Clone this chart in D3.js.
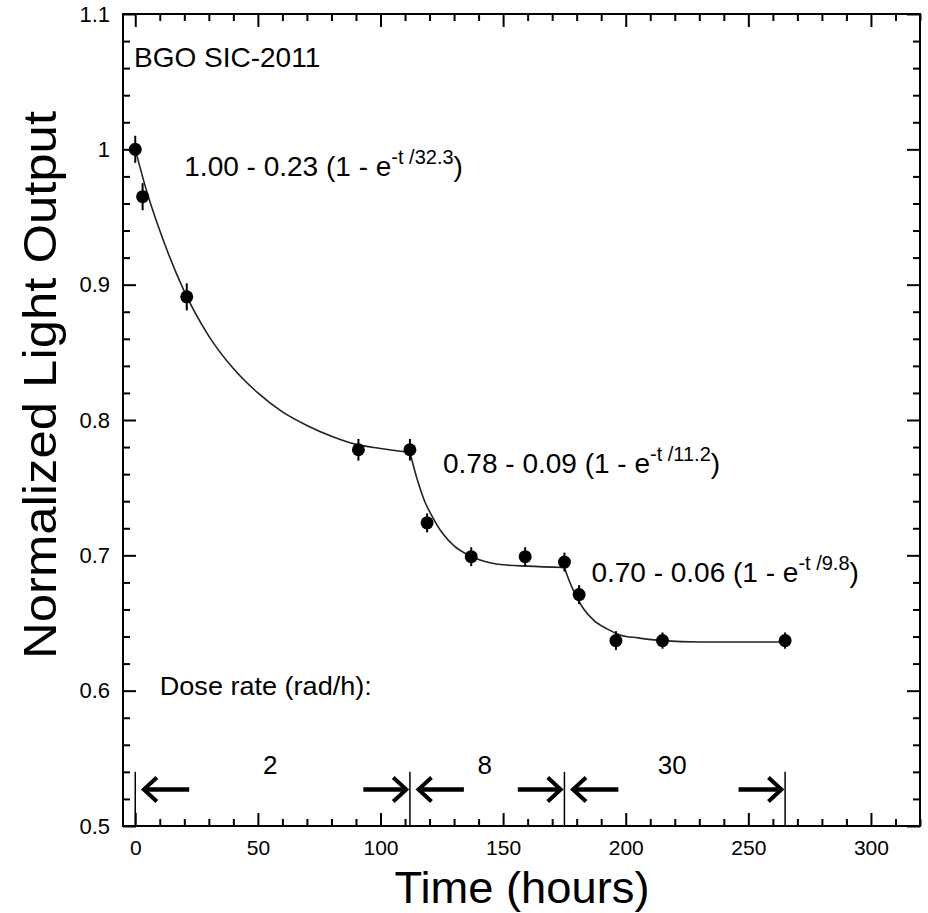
<!DOCTYPE html>
<html>
<head>
<meta charset="utf-8">
<script src="https://cdn.jsdelivr.net/npm/d3@7"></script>
<style>
  html, body { margin: 0; padding: 0; background: #fff; }
  svg { display: block; }
  text { font-family: "Liberation Sans", Arial, "DejaVu Sans", sans-serif; fill: #000; }
</style>
</head>
<body>
<svg id="chart" width="928" height="913"></svg>
<script>
// ---- data ----
const timeHours   = [0, 3, 21, 91, 112, 119, 137, 159, 175, 181, 196, 215, 265];
const lightOutput = [1.000, 0.965, 0.891, 0.778, 0.778, 0.724, 0.699, 0.699, 0.695, 0.671, 0.637, 0.637, 0.637];
const errorBar    = [0.010, 0.010, 0.010, 0.008, 0.008, 0.007, 0.007, 0.007, 0.007, 0.007, 0.007, 0.006, 0.006];

// fit curve points (three segments)
const fit1T = [0, 5, 10, 20, 30, 40, 50, 60, 70, 80, 90, 100, 112];
const fit1Y = [1.000, 0.967, 0.940, 0.895, 0.862, 0.838, 0.820, 0.806, 0.796, 0.788, 0.782, 0.779, 0.776];
const fit2T = [112, 115, 118, 121, 125, 130, 135, 140, 150, 160, 175];
const fit2Y = [0.776, 0.756, 0.740, 0.729, 0.717, 0.707, 0.701, 0.697, 0.693, 0.692, 0.691];
const fit3T = [175, 177, 180, 183, 187, 192, 198, 205, 215, 230, 265];
const fit3Y = [0.691, 0.681, 0.669, 0.660, 0.652, 0.646, 0.641, 0.639, 0.637, 0.636, 0.636];

const xTicks = [0, 50, 100, 150, 200, 250, 300];
const yTicks = [0.5, 0.6, 0.7, 0.8, 0.9, 1, 1.1];
const yTickLabels = ["0.5", "0.6", "0.7", "0.8", "0.9", "1", "1.1"];

const doseBoundaries = [0, 112, 175, 265];
const doseRates = ["2", "8", "30"];

const fitLabels = [
  { t: 20,  y: 0.980, main: "1.00 - 0.23 (1 - e", sup: "-t /32.3" },
  { t: 125.5, y: 0.761, main: "0.78 - 0.09 (1 - e", sup: "-t /11.2" },
  { t: 186, y: 0.680, main: "0.70 - 0.06 (1 - e", sup: "-t /9.8" }
];

// ---- layout ----
const svg = d3.select("#chart");
const L = 123, R = 920, T = 14, B = 826;
const x = d3.scaleLinear().domain([-5, 320]).range([L, R]);
const y = d3.scaleLinear().domain([0.5, 1.1]).range([B, T]);

// frame
svg.append("rect").attr("x", L).attr("y", T).attr("width", R - L).attr("height", B - T)
  .attr("fill", "none").attr("stroke", "#000").attr("stroke-width", 2);

const majorLen = 13, minorLen = 7;
const xMinor = d3.range(0, 321, 10).filter(v => v % 50 !== 0);
const yMinor = d3.range(0.5, 1.1001, 0.02).filter(v => Math.abs(v * 10 - Math.round(v * 10)) > 1e-6);

function clean(g) { g.select(".domain").remove(); g.selectAll(".tick line").attr("stroke-width", 2); return g; }

// bottom axis (inward ticks)
const gxb = clean(svg.append("g").attr("transform", `translate(0,${B})`)
  .call(d3.axisBottom(x).tickValues(xTicks).tickSizeInner(-majorLen).tickSizeOuter(0).tickPadding(majorLen + 1).tickFormat(d3.format("d"))));
gxb.selectAll("text").attr("font-size", 21);
clean(svg.append("g").attr("transform", `translate(0,${B})`)
  .call(d3.axisBottom(x).tickValues(xMinor).tickSizeInner(-minorLen).tickSizeOuter(0).tickFormat("")));

// top axis ticks
clean(svg.append("g").attr("transform", `translate(0,${T})`)
  .call(d3.axisTop(x).tickValues(xTicks).tickSizeInner(-majorLen).tickSizeOuter(0).tickFormat("")));
clean(svg.append("g").attr("transform", `translate(0,${T})`)
  .call(d3.axisTop(x).tickValues(xMinor).tickSizeInner(-minorLen).tickSizeOuter(0).tickFormat("")));

// left axis
const gyl = clean(svg.append("g").attr("transform", `translate(${L},0)`)
  .call(d3.axisLeft(y).tickValues(yTicks).tickSizeInner(-majorLen).tickSizeOuter(0).tickPadding(13).tickFormat((d, i) => yTickLabels[i])));
gyl.selectAll("text").attr("font-size", 22);
clean(svg.append("g").attr("transform", `translate(${L},0)`)
  .call(d3.axisLeft(y).tickValues(yMinor).tickSizeInner(-minorLen).tickSizeOuter(0).tickFormat("")));

// right axis ticks
clean(svg.append("g").attr("transform", `translate(${R},0)`)
  .call(d3.axisRight(y).tickValues(yTicks).tickSizeInner(-majorLen).tickSizeOuter(0).tickFormat("")));
clean(svg.append("g").attr("transform", `translate(${R},0)`)
  .call(d3.axisRight(y).tickValues(yMinor).tickSizeInner(-minorLen).tickSizeOuter(0).tickFormat("")));

// axis titles
svg.append("text").attr("x", 522).attr("y", 903).attr("text-anchor", "middle")
  .attr("font-size", 44).attr("textLength", 255).attr("lengthAdjust", "spacingAndGlyphs").text("Time (hours)");
svg.append("text").attr("transform", `translate(56,385) rotate(-90)`).attr("text-anchor", "middle")
  .attr("font-size", 46).attr("textLength", 548).attr("lengthAdjust", "spacingAndGlyphs")
  .text("Normalized Light Output");

// fit curves
const line = d3.line().x(d => x(d[0])).y(d => y(d[1])).curve(d3.curveMonotoneX);
[[fit1T, fit1Y], [fit2T, fit2Y], [fit3T, fit3Y]].forEach(([ts, ys]) => {
  svg.append("path").datum(ts.map((t, i) => [t, ys[i]]))
    .attr("d", line).attr("fill", "none").attr("stroke", "#222").attr("stroke-width", 1.6);
});

// error bars + points
const pts = timeHours.map((t, i) => ({ t, v: lightOutput[i], e: errorBar[i] }));
svg.append("g").selectAll("line").data(pts).join("line")
  .attr("x1", d => x(d.t)).attr("x2", d => x(d.t))
  .attr("y1", d => y(d.v - d.e)).attr("y2", d => y(d.v + d.e))
  .attr("stroke", "#000").attr("stroke-width", 2);
svg.append("g").selectAll("circle").data(pts).join("circle")
  .attr("cx", d => x(d.t)).attr("cy", d => y(d.v)).attr("r", 6.5).attr("fill", "#000");

// labels
svg.append("text").attr("x", x(-0.5)).attr("y", y(1.061)).attr("font-size", 28).text("BGO SIC-2011");
svg.append("text").attr("x", x(10)).attr("y", y(0.597)).attr("font-size", 25)
  .attr("textLength", 212).attr("lengthAdjust", "spacingAndGlyphs").text("Dose rate (rad/h):");

fitLabels.forEach(f => {
  const tx = svg.append("text").attr("x", x(f.t)).attr("y", y(f.y)).attr("font-size", 28);
  tx.append("tspan").text(f.main);
  tx.append("tspan").attr("dy", -12).attr("font-size", 20).text(f.sup);
  tx.append("tspan").attr("dy", 12).text(")");
});

// dose-rate intervals
const yBarTop = 0.540, yArrow = 0.527;
doseBoundaries.forEach(t => {
  svg.append("line").attr("x1", x(t)).attr("x2", x(t)).attr("y1", y(yBarTop)).attr("y2", y(0.5))
    .attr("stroke", "#000").attr("stroke-width", 1.5);
});
function arrow(tFrom, tTo) {
  const x1 = x(tFrom), x2 = x(tTo), yy = y(yArrow);
  const dir = Math.sign(x2 - x1);
  svg.append("line").attr("x1", x1).attr("x2", x2 - dir * 3).attr("y1", yy).attr("y2", yy)
    .attr("stroke", "#000").attr("stroke-width", 4.5);
  svg.append("path")
    .attr("d", `M${x2 - dir * 13},${yy - 12} L${x2},${yy} L${x2 - dir * 13},${yy + 12}`)
    .attr("fill", "none").attr("stroke", "#000").attr("stroke-width", 4).attr("stroke-linejoin", "miter");
}
for (let i = 0; i < doseRates.length; i++) {
  const a = doseBoundaries[i], b = doseBoundaries[i + 1];
  arrow(a + 22, a + 3.5);
  arrow(b - 19, b - 1.5);
  svg.append("text").attr("x", x((a + b) / 2 - 1)).attr("y", y(0.5385)).attr("text-anchor", "middle")
    .attr("font-size", 26).text(doseRates[i]);
}
</script>
</body>
</html>
